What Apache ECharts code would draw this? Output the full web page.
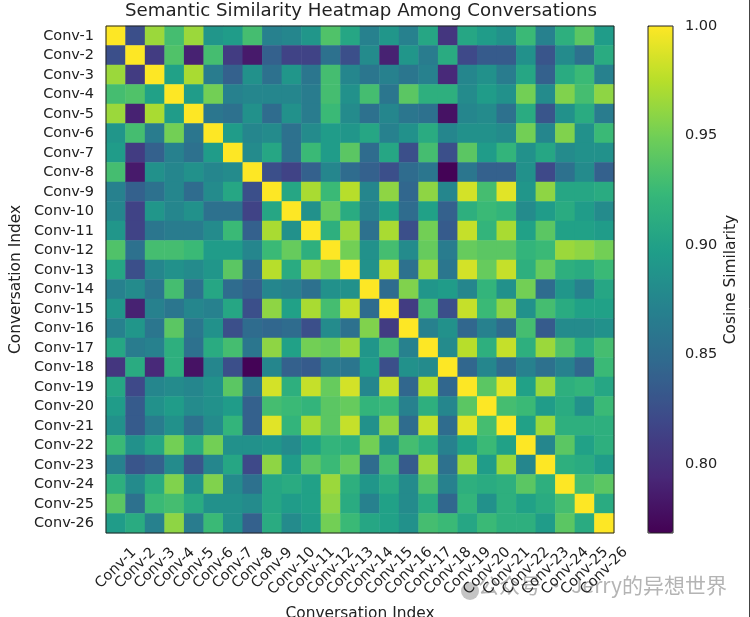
<!DOCTYPE html>
<html>
<head>
<meta charset="utf-8">
<style>
  html, body { margin: 0; padding: 0; background: #fff; }
  #chart { width: 750px; height: 617px; }
</style>
<script src="https://cdn.jsdelivr.net/npm/echarts@6/dist/echarts.min.js"></script>
</head>
<body>
<div id="chart"></div>
<script>
const labels = Array.from({ length: 26 }, (_, i) => `Conv-${i + 1}`);
const colorbarTicks = [0.80, 0.85, 0.90, 0.95, 1.00];
const viridis = ['#440154', '#482878', '#3e4989', '#31688e', '#26828e', '#1f9e89', '#35b779', '#6ece58', '#b5de2b', '#fde725'];
const minValue = 0.7685;

// upper triangle of the similarity matrix, each row starts after the diagonal
const upper = [
  [.825,.965,.93,.965,.89,.895,.93,.87,.875,.89,.935,.905,.87,.89,.87,.905,.805,.905,.895,.885,.925,.87,.915,.94,.895],
  [.81,.935,.79,.93,.81,.785,.84,.815,.815,.855,.825,.88,.79,.89,.865,.91,.82,.835,.835,.885,.83,.88,.855,.91],
  [.9,.97,.865,.84,.885,.855,.89,.86,.93,.875,.86,.87,.86,.87,.795,.875,.885,.865,.905,.84,.91,.925,.87],
  [.895,.95,.87,.875,.875,.875,.865,.93,.885,.93,.86,.94,.915,.915,.88,.895,.885,.95,.88,.955,.93,.96],
  [.86,.855,.885,.85,.885,.865,.925,.88,.855,.875,.86,.855,.78,.875,.88,.855,.91,.83,.885,.91,.865],
  [.895,.875,.88,.855,.88,.895,.89,.905,.87,.885,.91,.875,.885,.885,.88,.95,.875,.955,.885,.925],
  [.88,.905,.855,.925,.895,.94,.85,.905,.825,.93,.825,.94,.895,.92,.885,.905,.88,.885,.885],
  [.825,.815,.84,.875,.85,.84,.825,.85,.86,.77,.86,.84,.84,.885,.82,.855,.88,.84],
  [.905,.97,.925,.975,.875,.96,.845,.96,.875,.985,.93,.99,.89,.96,.905,.905,.91],
  [.885,.945,.91,.87,.9,.85,.9,.84,.915,.925,.92,.88,.895,.91,.895,.88],
  [.915,.965,.855,.97,.825,.95,.835,.98,.92,.97,.9,.94,.9,.9,.895],
  [.95,.885,.93,.88,.945,.865,.945,.94,.94,.92,.925,.965,.96,.95],
  [.885,.98,.855,.965,.86,.985,.945,.98,.915,.945,.915,.91,.925],
  [.85,.955,.89,.895,.875,.92,.885,.95,.85,.89,.87,.905],
  [.81,.93,.825,.98,.925,.96,.885,.93,.91,.9,.9],
  [.87,.885,.845,.87,.85,.93,.835,.88,.88,.885],
  [.88,.975,.915,.98,.915,.965,.935,.91,.93],
  [.845,.875,.85,.87,.855,.87,.845,.925],
  [.94,.99,.9,.965,.915,.92,.905],
  [.93,.925,.895,.91,.885,.925],
  [.9,.965,.915,.915,.915],
  [.875,.94,.9,.915],
  [.915,.91,.895],
  [.93,.94],
  [.91]
];

const cells = [];
for (let i = 0; i < labels.length; i++) {
  cells.push([i, i, 1]);
  (upper[i] || []).forEach((v, k) => {
    const j = i + k + 1;
    cells.push([j, i, v]);
    cells.push([i, j, v]);
  });
}

const font = 'DejaVu Sans';
const ink = '#222';
const tickSize = 14.5;
const nameSize = 15.4;

const chart = echarts.init(document.getElementById('chart'), null, { renderer: 'canvas' });
chart.setOption({
  animation: false,
  backgroundColor: '#fff',
  title: {
    text: 'Semantic Similarity Heatmap Among Conversations',
    left: 356, top: -3, textAlign: 'center',
    textStyle: { fontFamily: font, fontSize: 18.2, fontWeight: 'normal', color: ink }
  },
  grid: [
    { left: 106, top: 26, width: 508, height: 507, show: true, borderColor: ink, borderWidth: 1, backgroundColor: 'transparent', z: 5, outerBoundsMode: 'none' },
    { left: 648, top: 26, width: 25, height: 507, show: true, borderColor: ink, borderWidth: 1, backgroundColor: 'transparent', z: 5, outerBoundsMode: 'none' }
  ],
  xAxis: [
    {
      type: 'category', data: labels, gridIndex: 0,
      name: 'Conversation Index', nameLocation: 'middle', nameGap: 73,
      nameTextStyle: { fontFamily: font, fontSize: nameSize, color: ink },
      axisLine: { show: false },
      axisTick: { alignWithLabel: true, length: 5, lineStyle: { color: ink } },
      splitLine: { show: false },
      axisLabel: {
        interval: 0, rotate: 45, align: 'center', verticalAlign: 'middle', margin: 38,
        fontFamily: font, fontSize: tickSize, color: ink,
        formatter: v => v.length < 7 ? `{s|${v}}` : `{l|${v}}`,
        rich: {
          s: { fontFamily: font, fontSize: tickSize, color: ink, padding: [0, 0, 4, 4] },
          l: { fontFamily: font, fontSize: tickSize, color: ink }
        }
      }
    },
    { type: 'value', gridIndex: 1, min: 0, max: 1, show: false }
  ],
  yAxis: [
    {
      type: 'category', data: labels, gridIndex: 0, inverse: true,
      name: 'Conversation Index', nameLocation: 'middle', nameGap: 82,
      nameTextStyle: { fontFamily: font, fontSize: nameSize, color: ink },
      axisLine: { show: false },
      axisTick: { alignWithLabel: true, length: 5, lineStyle: { color: ink } },
      splitLine: { show: false },
      axisLabel: { interval: 0, margin: 12, fontFamily: font, fontSize: tickSize, color: ink }
    },
    {
      type: 'value', gridIndex: 1, position: 'right', min: minValue, max: 1,
      name: 'Cosine Similarity', nameLocation: 'middle', nameGap: 50,
      nameTextStyle: { fontFamily: font, fontSize: nameSize, color: ink },
      axisLine: { show: false },
      splitLine: { show: false },
      axisTick: { length: 5, lineStyle: { color: ink }, customValues: colorbarTicks },
      axisLabel: {
        margin: 12, fontFamily: font, fontSize: tickSize, color: ink,
        customValues: colorbarTicks,
        formatter: v => v.toFixed(2)
      }
    }
  ],
  visualMap: {
    type: 'continuous', seriesIndex: 0, min: minValue, max: 1,
    left: 648, top: 26, itemWidth: 25, itemHeight: 507, padding: 0,
    calculable: false, realtime: false, text: ['', ''], showLabel: false,
    inRange: { color: viridis }, z: 1
  },
  series: [{
    type: 'heatmap', data: cells, xAxisIndex: 0, yAxisIndex: 0,
    progressive: 0, itemStyle: { borderWidth: 0 }, emphasis: { disabled: true }
  }],
  graphic: [
    {
      type: 'circle', silent: true, z: -1,
      shape: { cx: 470, cy: 591, r: 9 },
      style: { fill: '#c4c4c4' }
    },
    {
      type: 'text', right: 23, top: 575, silent: true, z: -1,
      style: { text: '公众号 · Jerry的异想世界', font: '21px "Noto Sans CJK SC"', fill: '#b4b4b4' }
    },
    {
      type: 'line', silent: true,
      shape: { x1: 749.5, y1: 0, x2: 749.5, y2: 617 },
      style: { stroke: '#444', lineWidth: 1 }
    }
  ]
});
</script>
</body>
</html>
